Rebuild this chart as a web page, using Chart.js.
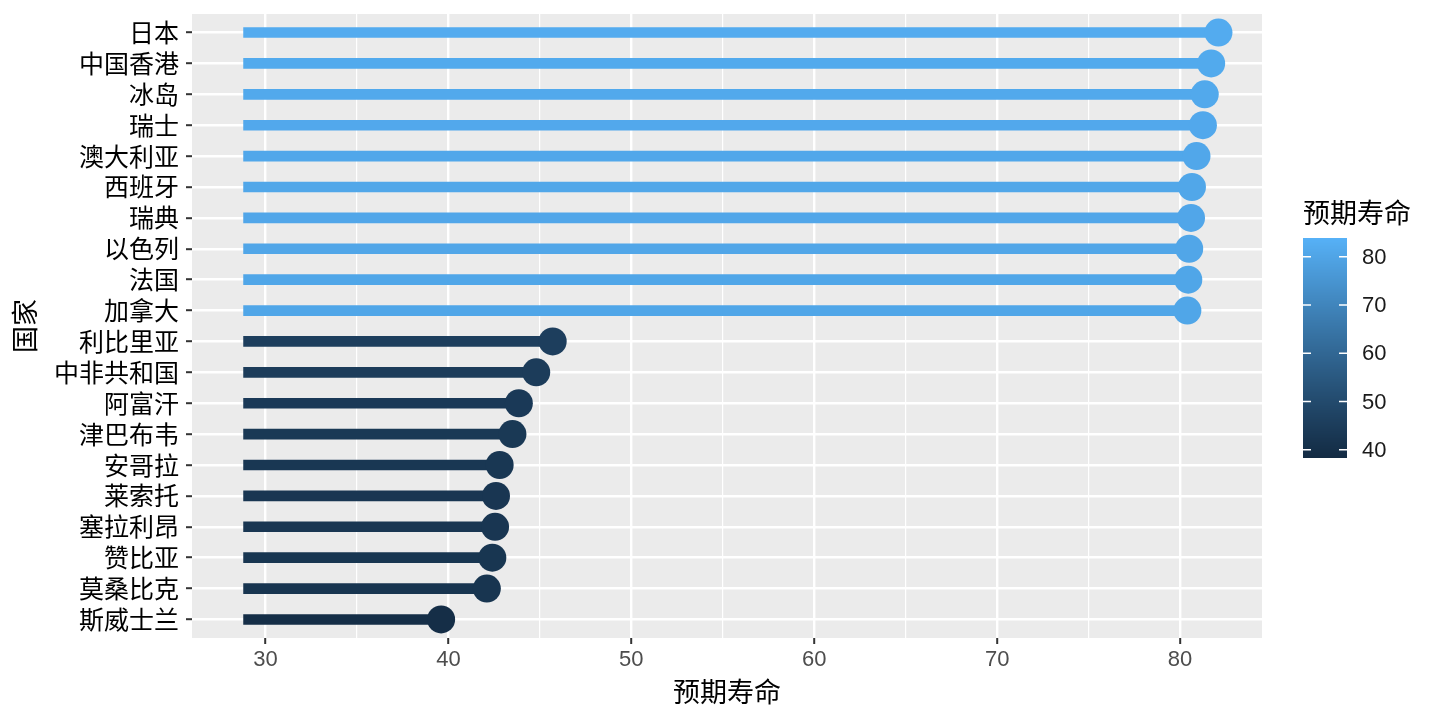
<!DOCTYPE html>
<html>
<head>
<meta charset="utf-8">
<script src="https://cdn.jsdelivr.net/npm/chart.js@4.4.1/dist/chart.umd.min.js"></script>
<style>
  html, body { margin: 0; padding: 0; background: #fff; }
  #wrap { width: 1440px; height: 720px; }
</style>
</head>
<body>
<div id="wrap"><canvas id="chart" width="1440" height="720"></canvas></div>
<script>
// 数据
const countries = ["日本", "中国香港", "冰岛", "瑞士", "澳大利亚", "西班牙", "瑞典", "以色列", "法国", "加拿大",
  "利比里亚", "中非共和国", "阿富汗", "津巴布韦", "安哥拉", "莱索托", "塞拉利昂", "赞比亚", "莫桑比克", "斯威士兰"];
const lifeExp = [82.1, 81.7, 81.35, 81.25, 80.9, 80.65, 80.6, 80.5, 80.45, 80.4,
  45.7, 44.8, 43.85, 43.5, 42.8, 42.6, 42.55, 42.4, 42.1, 39.6];
const segStart = [28.8];
const xTicks = [30, 40, 50, 60, 70, 80];
const xMinor = [35, 45, 55, 65, 75];
const legendTicks = [40, 50, 60, 70, 80];
const colourLimits = [38.3, 83.9]; // range covered by the colour bar

const cjk = '"Noto Sans CJK SC", "Noto Sans", sans-serif';
const latin = '"Liberation Sans", Arial, sans-serif';

// ggplot2 style gradient (#132B43 -> #56B1F7), interpolated in Lab
function hexToRgb(h) {
  return [1, 3, 5].map(i => parseInt(h.substr(i, 2), 16));
}
function toLab(rgb) {
  const lin = rgb.map(c => { c /= 255; return c <= 0.04045 ? c / 12.92 : Math.pow((c + 0.055) / 1.055, 2.4); });
  const X = (0.4124564 * lin[0] + 0.3575761 * lin[1] + 0.1804375 * lin[2]) / 0.95047;
  const Y = 0.2126729 * lin[0] + 0.7151522 * lin[1] + 0.0721750 * lin[2];
  const Z = (0.0193339 * lin[0] + 0.1191920 * lin[1] + 0.9503041 * lin[2]) / 1.08883;
  const f = t => t > 0.008856 ? Math.cbrt(t) : 7.787 * t + 16 / 116;
  const fx = f(X), fy = f(Y), fz = f(Z);
  return [116 * fy - 16, 500 * (fx - fy), 200 * (fy - fz)];
}
function fromLab(lab) {
  const fy = (lab[0] + 16) / 116, fx = fy + lab[1] / 500, fz = fy - lab[2] / 200;
  const inv = f => { const f3 = f * f * f; return f3 > 0.008856 ? f3 : (f - 16 / 116) / 7.787; };
  const X = inv(fx) * 0.95047, Y = inv(fy), Z = inv(fz) * 1.08883;
  const lin = [
    3.2404542 * X - 1.5371385 * Y - 0.4985314 * Z,
    -0.9692660 * X + 1.8760108 * Y + 0.0415560 * Z,
    0.0556434 * X - 0.2040259 * Y + 1.0572252 * Z
  ];
  const rgb = lin.map(c => {
    c = c <= 0.0031308 ? 12.92 * c : 1.055 * Math.pow(c, 1 / 2.4) - 0.055;
    return Math.round(Math.min(1, Math.max(0, c)) * 255);
  });
  return "rgb(" + rgb.join(",") + ")";
}
const lowLab = toLab(hexToRgb("#132B43"));
const highLab = toLab(hexToRgb("#56B1F7"));
function colorFor(v) {
  const t = Math.min(1, Math.max(0, (v - colourLimits[0]) / (colourLimits[1] - colourLimits[0])));
  return fromLab(lowLab.map((l, i) => l + (highLab[i] - l) * t));
}
const colors = lifeExp.map(colorFor);

// panel background
const panelBg = {
  id: "panelBg",
  beforeDraw(chart) {
    const { ctx, chartArea: a } = chart;
    ctx.save();
    ctx.fillStyle = "#fff";
    ctx.fillRect(0, 0, chart.width, chart.height);
    ctx.fillStyle = "#EBEBEB";
    ctx.fillRect(a.left, a.top, a.right - a.left, a.bottom - a.top);
    ctx.restore();
  }
};

// colour bar legend
const colorBar = {
  id: "colorBar",
  afterDraw(chart) {
    const ctx = chart.ctx;
    const left = 1303, width = 44, top = 238, bottom = 458;
    const vBottom = colourLimits[0], vTop = colourLimits[1];
    const pxPer = (bottom - top) / (vTop - vBottom);
    const yFor = v => top + (vTop - v) * pxPer;
    ctx.save();
    ctx.fillStyle = "#000";
    ctx.font = "27px " + cjk;
    ctx.textAlign = "left";
    ctx.textBaseline = "middle";
    ctx.fillText("预期寿命", 1303, 213);
    for (let y = top; y < bottom; y++) {
      ctx.fillStyle = colorFor(vTop - (y + 0.5 - top) / pxPer);
      ctx.fillRect(left, y, width, 1);
    }
    ctx.strokeStyle = "#fff";
    ctx.lineWidth = 1.5;
    ctx.font = "22px " + latin;
    legendTicks.forEach(v => {
      const y = yFor(v);
      ctx.beginPath();
      ctx.moveTo(left, y); ctx.lineTo(left + 8, y);
      ctx.moveTo(left + width - 8, y); ctx.lineTo(left + width, y);
      ctx.stroke();
      ctx.fillStyle = "#1a1a1a";
      ctx.fillText(String(v), 1362, y + 1);
    });
    ctx.restore();
  }
};

const gridValues = xTicks.concat(xMinor).sort((a, b) => a - b);

new Chart(document.getElementById("chart"), {
  type: "bar",
  data: {
    datasets: [
      {
        type: "line",
        label: "预期寿命",
        data: lifeExp.map((v, i) => ({ x: v, y: i })),
        showLine: false,
        pointRadius: 14,
        pointHoverRadius: 14,
        pointBackgroundColor: colors,
        pointBorderWidth: 0,
        order: 0
      },
      {
        type: "bar",
        label: "线段",
        data: lifeExp.map((v, i) => ({ x: [segStart[0], v], y: i })),
        backgroundColor: colors,
        borderWidth: 0,
        barThickness: 10,
        order: 1
      }
    ]
  },
  options: {
    indexAxis: "y",
    responsive: false,
    animation: false,
    events: [],
    layout: { autoPadding: false, padding: { top: 14, right: 178, bottom: 0, left: 0 } },
    plugins: { legend: { display: false }, tooltip: { enabled: false } },
    scales: {
      x: {
        type: "linear",
        min: 25.98,
        max: 84.48,
        offset: false,
        border: { display: false },
        afterBuildTicks: s => { s.ticks = gridValues.map(v => ({ value: v })); },
        afterFit: s => { s.height = 82; s.paddingLeft = 0; s.paddingRight = 0; },
        grid: {
          offset: false,
          color: "#fff",
          lineWidth: c => (xTicks.includes(c.tick.value) ? 2.4 : 1.2),
          tickLength: 6,
          tickWidth: 2,
          tickColor: c => (xTicks.includes(c.tick.value) ? "#333" : "rgba(0,0,0,0)")
        },
        ticks: {
          padding: 3,
          color: "#4D4D4D",
          font: { family: latin, size: 22 },
          autoSkip: false,
          maxRotation: 0,
          callback: v => (xTicks.includes(v) ? String(v) : "")
        },
        title: {
          display: true,
          text: "预期寿命",
          color: "#000",
          font: { family: cjk, size: 27 },
          padding: { top: 0, bottom: 12 }
        }
      },
      y: {
        type: "linear",
        reverse: true,
        offset: false,
        min: -0.6,
        max: countries.length - 0.4,
        border: { display: false },
        afterBuildTicks: s => { s.ticks = countries.map((c, i) => ({ value: i })); },
        afterFit: s => { s.width = 192; s.paddingTop = 0; s.paddingBottom = 0; },
        grid: { offset: false, color: "#fff", lineWidth: 2.4, tickLength: 6, tickWidth: 2, tickColor: "#333" },
        ticks: {
          padding: 7,
          color: "#000",
          font: { family: cjk, size: 25 },
          autoSkip: false,
          callback: v => countries[v]
        },
        title: {
          display: true,
          text: "国家",
          color: "#000",
          font: { family: cjk, size: 27 },
          padding: { top: 9, bottom: 0 }
        }
      }
    }
  },
  plugins: [panelBg, colorBar]
});
</script>
</body>
</html>
